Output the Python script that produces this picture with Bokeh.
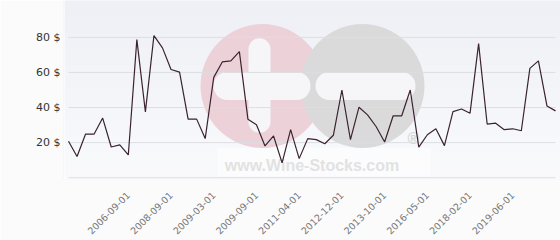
import math
from bokeh.plotting import figure
from bokeh.models import FixedTicker, Range1d, BoxAnnotation
from bokeh.core.properties import value
from bokeh.embed import file_html
from bokeh.resources import INLINE

# ---- data ----
prices = [20.8, 12.1, 24.9, 24.9, 34.0, 17.5, 18.7, 13.0, 78.7, 37.5,
          81.0, 74.0, 61.7, 60.2, 33.4, 33.4, 22.3, 57.2, 66.0, 66.6,
          71.9, 33.4, 30.2, 18.1, 23.8, 8.5, 27.4, 10.9, 22.3, 21.7,
          19.4, 24.2, 50.0, 21.7, 40.2, 35.8, 29.2, 20.4, 35.3, 35.3,
          50.0, 17.4, 24.5, 27.9, 18.3, 37.7, 39.2, 36.8, 76.4, 30.6,
          31.1, 27.4, 27.9, 26.8, 62.3, 66.6, 40.9, 38.1]
tick_index = [7, 12, 17, 22, 27, 32, 37, 42, 47, 52]
tick_labels = ["2006-09-01", "2008-09-01", "2009-03-01", "2009-09-01", "2011-04-01",
               "2012-12-01", "2013-10-01", "2016-05-01", "2018-02-01", "2019-06-01"]
y_ticks = [20, 40, 60, 80]
grid_values = [0, 20, 40, 60, 80]

# ---- layout ----
W, H = 560, 240
LEFT, BOTTOM = 63, 60
n = len(prices)
xs = list(range(n))
pad = 0.585
x0, x1 = -pad, n - 1 + pad
y0, y1 = -1.0, 101.0
frame_w, frame_h = W - LEFT, H - BOTTOM

p = figure(width=W, height=H, output_backend="svg", toolbar_location=None,
           x_range=Range1d(x0, x1), y_range=Range1d(y0, y1),
           min_border_left=LEFT, min_border_right=0, min_border_top=0,
           min_border_bottom=BOTTOM)
p.outline_line_color = None
p.grid.visible = False
p.background_fill_color = "#f5f6f9"
p.border_fill_color = "#fbfbfc"

# background gradient (canvas bands) and left strip
N = 30
top_c, bot_c = (238, 240, 245), (253, 253, 254)
for i in range(N):
    t = i / (N - 1)
    c = tuple(int(round(top_c[k] + (bot_c[k] - top_c[k]) * t)) for k in range(3))
    p.add_layout(BoxAnnotation(left=LEFT, right=W, top=i * H / N, bottom=(i + 1) * H / N + 1,
                               left_units="canvas", right_units="canvas",
                               top_units="canvas", bottom_units="canvas",
                               fill_color="#%02x%02x%02x" % c, fill_alpha=1,
                               line_color=None, level="image"))
p.add_layout(BoxAnnotation(left=0, right=LEFT, top=0, bottom=H,
                           left_units="canvas", right_units="canvas",
                           top_units="canvas", bottom_units="canvas",
                           fill_color="#e7ebee", fill_alpha=1, line_color=None, level="image"))
p.add_layout(BoxAnnotation(left=LEFT, right=LEFT + 1, top=0, bottom=H,
                           left_units="canvas", right_units="canvas",
                           top_units="canvas", bottom_units="canvas",
                           fill_color="#ffffff", fill_alpha=1, line_color=None, level="image"))

# ---- watermark (pixel layout converted to data space) ----
def dx(px):
    return x0 + (px - LEFT) * (x1 - x0) / frame_w

def dy(py):
    return y1 - py * (y1 - y0) / frame_h

p.quad(left=[dx(217)], right=[dx(430)], top=[dy(148)], bottom=[dy(177)],
       fill_color="#ffffff", fill_alpha=0.5, line_color=None)
p.scatter([dx(262)], [dy(86)], size=124, marker="circle", fill_color="#ecd2d8", line_color=None)
p.scatter([dx(362)], [dy(86)], size=124, marker="circle", fill_color="#dadada", line_color=None)
p.segment(x0=[dx(259)], y0=[dy(49)], x1=[dx(259)], y1=[dy(122)],
          line_color="#f6f6f8", line_width=22, line_cap="round")
p.segment(x0=[dx(227), dx(329)], y0=[dy(86), dy(86)], x1=[dx(296), dx(401)], y1=[dy(86), dy(86)],
          line_color="#f6f6f8", line_width=28, line_cap="round")
p.text(x=[dx(311.5)], y=[dy(166)], text=["www.Wine-Stocks.com"],
       text_font=value("Liberation Sans"), text_font_style="bold", text_font_size="16px",
       text_color="#e2e2e2", text_align="center", text_baseline="alphabetic")
p.text(x=[dx(413)], y=[dy(139)], text=["®"],
       text_font=value("Liberation Sans"), text_font_style="bold", text_font_size="16px",
       text_color="#d6d6d6", text_align="center", text_baseline="middle")

# ---- grid lines over data span ----
p.segment(x0=[0] * len(grid_values), x1=[n - 1] * len(grid_values),
          y0=grid_values, y1=grid_values, line_color="#dcdee2", line_width=1)

# ---- data line ----
p.line(xs, prices, line_color="#3b2230", line_width=1.2)

# ---- axes ----
p.xaxis.ticker = FixedTicker(ticks=tick_index)
p.xaxis.major_label_overrides = {i: s for i, s in zip(tick_index, tick_labels)}
p.xaxis.major_label_orientation = math.pi / 4
p.xaxis.axis_line_color = None
p.xaxis.major_tick_line_color = None
p.xaxis.minor_tick_line_color = None
p.xaxis.major_tick_out = 0
p.xaxis.major_label_text_font = "DejaVu Sans"
p.xaxis.major_label_text_font_size = "9.5px"
p.xaxis.major_label_text_color = "#777777"
p.xaxis.major_label_standoff = 14

p.yaxis.ticker = FixedTicker(ticks=y_ticks)
p.yaxis.major_label_overrides = {v: f"{v} $" for v in y_ticks}
p.yaxis.axis_line_color = None
p.yaxis.major_tick_line_color = None
p.yaxis.minor_tick_line_color = None
p.yaxis.major_tick_out = 0
p.yaxis.major_label_text_font = "DejaVu Sans"
p.yaxis.major_label_text_font_size = "11px"
p.yaxis.major_label_text_color = "#333333"
p.yaxis.major_label_standoff = 3

open("out.html", "w").write(file_html(p, INLINE))
